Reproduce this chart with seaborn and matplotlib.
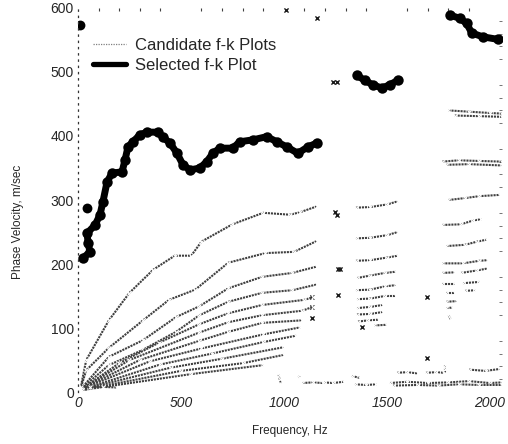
import numpy as np
import pandas as pd
import matplotlib
matplotlib.use("Agg")
import matplotlib.pyplot as plt
from matplotlib.lines import Line2D
from matplotlib.ticker import MultipleLocator
import seaborn as sns

# ---------------- candidate f-k dispersion curves (frequency Hz, velocity m/s) ----------------
cand_a_f = [15, 40, 150, 250, 365, 470, 550, 600, 750, 900, 1030, 1080, 1160]
cand_a_v = [10, 50, 112, 155, 191, 213, 213, 235, 262, 280, 277, 281, 290]
cand_b_f = [15, 40, 150, 316, 442, 570, 730, 910, 1050, 1160]
cand_b_v = [8, 34, 69, 112, 144, 160, 202, 217, 219, 236]
cand_c_f = [15, 150, 316, 476, 590, 730, 895, 1040, 1160]
cand_c_v = [5, 55, 81, 117, 134, 162, 180, 186, 196]
cand_d_f = [15, 150, 316, 476, 590, 730, 895, 1040, 1160]
cand_d_v = [5, 42, 66, 94, 120, 141, 155, 159, 168]
cand_e_f = [20, 200, 393, 590, 730, 895, 1100, 1140]
cand_e_v = [5, 45, 77, 106, 123, 136, 144, 148]
cand_f_f = [20, 250, 590, 730, 895, 1090, 1140]
cand_f_v = [5, 50, 93, 109, 120, 127, 133]
cand_g_f = [20, 300, 590, 730, 895, 1090]
cand_g_v = [5, 50, 80, 94, 108, 112]
cand_h_f = [20, 350, 600, 900, 1080]
cand_h_v = [5, 48, 68, 90, 101]
cand_i_f = [20, 400, 650, 900, 1060]
cand_i_v = [4, 43, 60, 78, 88]
cand_j_f = [20, 450, 700, 1000]
cand_j_v = [4, 38, 52, 70]
cand_k_f = [20, 500, 800, 1000]
cand_k_v = [3, 33, 45, 58]
cand_l_f = [20, 550, 900]
cand_l_v = [3, 28, 42]
cand_m_f = [15, 60, 120, 190]
cand_m_v = [8, 8, 8, 7]

# middle band, 1250-1560 Hz
mid_rows_f = [
    [1350, 1420, 1500, 1555],
    [1350, 1420, 1500, 1555],
    [1350, 1420, 1500, 1555],
    [1355, 1420, 1490, 1545],
    [1350, 1420, 1490, 1545],
    [1355, 1420, 1490, 1545],
    [1355, 1420, 1480],
    [1355, 1420, 1480],
    [1360, 1410, 1460],
    [1440, 1500],
]
mid_rows_v = [
    [288, 289, 293, 298],
    [240, 241, 245, 250],
    [205, 206, 210, 213],
    [178, 182, 186, 188],
    [159, 160, 165, 167],
    [145, 146, 150, 150],
    [131, 133, 136],
    [121, 122, 125],
    [110, 112, 113],
    [104, 105],
]

# high band, 1760-2060 Hz
high_rows_f = [
    [1800, 1900, 2000, 2058],
    [1830, 1950, 2058],
    [1770, 1850, 1950, 2058],
    [1790, 1900, 2058],
    [1800, 1880, 1950, 2050],
    [1770, 1860, 1920, 1960],
    [1790, 1880, 1940, 1985],
    [1770, 1870, 1950, 1990],
    [1770, 1830],
    [1860, 1940, 1990],
    [1770, 1830],
    [1870, 1950],
    [1790, 1830],
    [1880, 1930],
    [1790, 1840],
    [1790, 1820],
    [1800, 1810],
]
high_rows_v = [
    [440, 438, 436, 435],
    [432, 431, 430],
    [360, 362, 361, 360],
    [355, 356, 354],
    [300, 303, 306, 308],
    [261, 262, 268, 270],
    [228, 230, 235, 238],
    [201, 201, 205, 206],
    [186, 187],
    [186, 190, 193],
    [168, 168],
    [170, 172],
    [155, 155],
    [158, 159],
    [141, 142],
    [131, 132],
    [120, 114],
]

# low-velocity scatter along the bottom, 950-2060 Hz
low_rows_f = [
    [975, 980, 985],
    [1070, 1080],
    [1090, 1140, 1190],
    [1195, 1240, 1290],
    [1330, 1370],
    [1345, 1400, 1450],
    [1550, 1600, 1650],
    [1515, 1600, 1700, 1800, 1900, 2000, 2060],
    [1530, 1650, 1750, 1850, 1950, 2060],
    [1690, 1740, 1780],
    [1900, 1980, 2050],
    [1781, 1781, 1781],
]
low_rows_v = [
    [27, 20, 13],
    [25, 22],
    [14, 15, 14],
    [15, 14, 16],
    [25, 22],
    [12, 11, 12],
    [30, 31, 29],
    [14, 16, 14, 15, 17, 14, 15],
    [10, 11, 10, 12, 11, 11],
    [30, 31, 30],
    [35, 33, 36],
    [42, 36, 30],
]

# isolated candidate picks
iso_f = [1136, 1136, 1136, 1257, 1250, 1262, 1275, 1262, 1378, 1240, 1260,
         1694, 1694, 1010, 1160]
iso_v = [148, 133, 116, 277, 282, 192, 192, 152, 101, 484, 484,
         53, 148, 597, 584]

# ---------------- selected f-k dispersion curve ----------------
sel_1_f = [24, 58, 49, 44, 83, 107, 121, 141, 165, 214, 228, 243, 267, 301, 335,
           388, 413, 447, 481, 510, 544, 592, 626, 655, 689, 752, 786, 850, 917,
           966, 1014, 1068, 1117, 1160]
sel_1_v = [209, 219, 233, 248, 261, 277, 297, 328, 342, 344, 362, 383, 391, 402, 406,
           406, 398, 389, 373, 355, 347, 350, 360, 373, 381, 381, 391, 394, 399,
           391, 383, 373, 383, 389]
sel_2_f = [1354, 1393, 1432, 1476, 1515, 1553]
sel_2_v = [495, 487, 480, 475, 480, 487]
sel_3_f = [1806, 1854, 1888, 1913, 1966, 2040]
sel_3_v = [589, 584, 576, 561, 555, 551]
sel_dot_f = [10, 44]
sel_dot_v = [573, 287]

x_ticks = [0, 500, 1000, 1500, 2000]
y_ticks = [0, 100, 200, 300, 400, 500, 600]

# ---------------- long tables for seaborn ----------------
cand_curves = [
    (cand_a_f, cand_a_v), (cand_b_f, cand_b_v), (cand_c_f, cand_c_v),
    (cand_d_f, cand_d_v), (cand_e_f, cand_e_v), (cand_f_f, cand_f_v),
    (cand_g_f, cand_g_v), (cand_h_f, cand_h_v), (cand_i_f, cand_i_v),
    (cand_j_f, cand_j_v), (cand_k_f, cand_k_v), (cand_l_f, cand_l_v),
    (cand_m_f, cand_m_v),
]
cand_curves += list(zip(mid_rows_f, mid_rows_v))
cand_curves += list(zip(high_rows_f, high_rows_v))
cand_curves += list(zip(low_rows_f, low_rows_v))

rows = []
for cid, (fs, vs) in enumerate(cand_curves):
    for f, v in zip(fs, vs):
        rows.append({"curve": cid, "freq": f, "vel": v})
cand_df = pd.DataFrame(rows)
iso_df = pd.DataFrame({"freq": iso_f, "vel": iso_v})

sel_rows = []
for cid, (fs, vs) in enumerate([(sel_1_f, sel_1_v), (sel_2_f, sel_2_v), (sel_3_f, sel_3_v)]):
    for f, v in zip(fs, vs):
        sel_rows.append({"curve": cid, "freq": f, "vel": v})
sel_df = pd.DataFrame(sel_rows)
sel_dot_df = pd.DataFrame({"freq": sel_dot_f, "vel": sel_dot_v})

# ---------------- figure ----------------
sns.set_style("white")
plt.rcParams["font.family"] = ["Liberation Sans", "DejaVu Sans"]

fig = plt.figure(figsize=(5.08, 4.44), dpi=100)
ax = fig.add_axes([78 / 508, 52 / 444, 424 / 508, 384 / 444])

cand_color = "0.25"
sns.lineplot(data=cand_df, x="freq", y="vel", units="curve", estimator=None,
             sort=False, color=cand_color, lw=1.5, linestyle=(0, (1.0, 0.45)),
             marker="x", markersize=3.2, markeredgewidth=0.8, ax=ax, legend=False)
sns.scatterplot(data=iso_df, x="freq", y="vel", color="0.1", marker="x",
                s=9, linewidth=1.0, ax=ax, legend=False)

sns.lineplot(data=sel_df, x="freq", y="vel", units="curve", estimator=None,
             sort=False, color="black", lw=5.0, marker="o", markersize=7.5,
             markeredgewidth=0, ax=ax, legend=False)
sns.scatterplot(data=sel_dot_df, x="freq", y="vel", color="black", s=50,
                linewidth=0, ax=ax, legend=False)

ax.set_xlim(0, 2060)
ax.set_ylim(0, 600)
ax.set_xticks(x_ticks)
ax.set_yticks(y_ticks)
ax.set_xticklabels([str(t) for t in x_ticks], fontsize=10, style="italic")
ax.set_yticklabels([str(t) for t in y_ticks], fontsize=10)
ax.tick_params(axis="x", length=0, pad=3)
ax.tick_params(axis="y", length=0, pad=3)
ax.set_xlabel("")
ax.set_ylabel("")

# frame: dotted left axis, tiny minor ticks on top and right
for side in ["top", "right", "bottom"]:
    ax.spines[side].set_visible(False)
ax.spines["left"].set_linestyle((0, (1, 4)))
ax.spines["left"].set_linewidth(0.9)
ax.spines["left"].set_color("0.2")
ax.xaxis.set_minor_locator(MultipleLocator(100))
ax.yaxis.set_minor_locator(MultipleLocator(20))
ax.tick_params(which="minor", axis="x", top=True, bottom=False, direction="in",
               length=2, width=0.8, color="0.25")
ax.tick_params(which="minor", axis="y", right=True, left=False, direction="in",
               length=2, width=0.7, color="0.45")

handles = [
    Line2D([], [], color="0.5", lw=0.9, linestyle=(0, (1, 1))),
    Line2D([], [], color="black", lw=3.8),
]
ax.legend(handles, ["Candidate f-k Plots", "Selected f-k Plot"],
          loc="upper left", bbox_to_anchor=(0.02, 0.94), frameon=False,
          fontsize=12, handlelength=2.0, handletextpad=0.5, labelspacing=0.3,
          borderaxespad=0)

fig.text(290 / 508, 1 - 431 / 444, "Frequency, Hz", ha="center", va="center",
         fontsize=8.5)
fig.text(18 / 508, 1 - 222 / 444, "Phase Velocity, m/sec", ha="center",
         va="center", rotation=90, fontsize=8.5)

fig.savefig("out.png", dpi=100)
